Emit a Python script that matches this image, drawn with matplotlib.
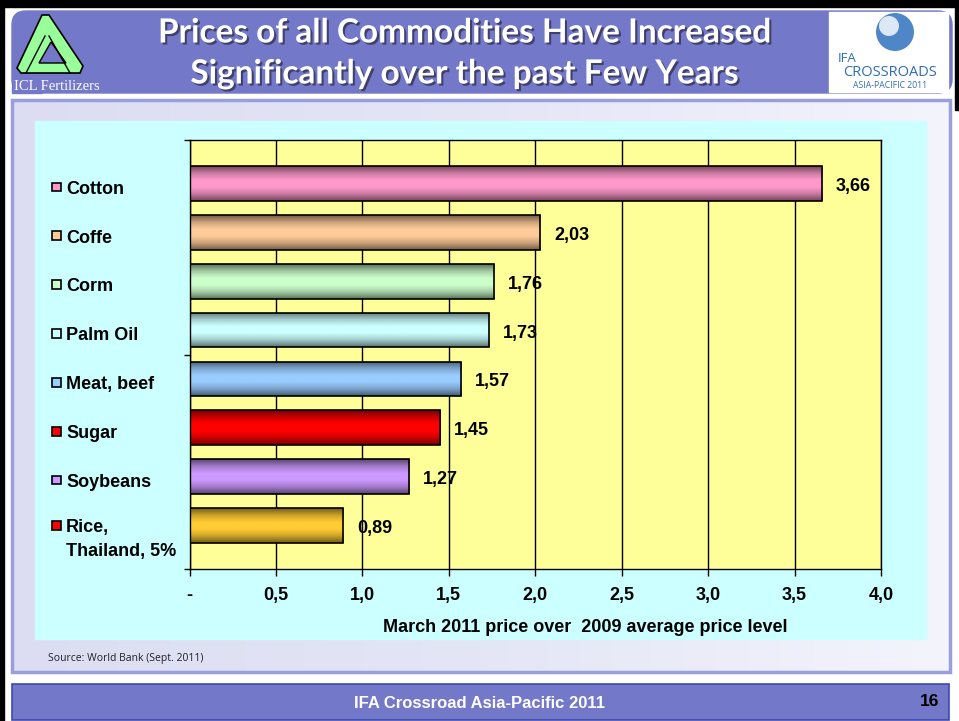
import matplotlib
matplotlib.use("Agg")
import matplotlib.pyplot as plt
import numpy as np
from matplotlib.patches import Rectangle, Polygon, FancyBboxPatch, Circle
from matplotlib.colors import LinearSegmentedColormap, to_rgb
import matplotlib.patheffects as pe
from matplotlib.transforms import blended_transform_factory

# data
categories = ["Cotton", "Coffe", "Corm", "Palm Oil", "Meat, beef", "Sugar", "Soybeans", "Rice,\nThailand, 5%"]
values = [3.66, 2.03, 1.76, 1.73, 1.57, 1.45, 1.27, 0.89]
value_labels = ["3,66", "2,03", "1,76", "1,73", "1,57", "1,45", "1,27", "0,89"]
bar_colors = ["#FF99CC", "#FFCC99", "#CCFFCC", "#CCFFFF", "#99CCFF", "#FF0000", "#CC99FF", "#FFCC33"]
legend_colors = ["#FF99CC", "#FFCC99", "#CCFFCC", "#CCFFFF", "#99CCFF", "#FF0000", "#CC99FF", "#FF0000"]
xticks = [0, 0.5, 1.0, 1.5, 2.0, 2.5, 3.0, 3.5, 4.0]
xtick_labels = ["-", "0,5", "1,0", "1,5", "2,0", "2,5", "3,0", "3,5", "4,0"]

W, H = 959, 721
BAND = "#7378C8"

fig = plt.figure(figsize=(W / 100, H / 100), dpi=100, facecolor="white")

# background / slide decoration in pixel coords
bg = fig.add_axes([0, 0, 1, 1], zorder=0)
bg.set_xlim(0, W)
bg.set_ylim(H, 0)
bg.axis("off")

# black frame
bg.add_patch(Rectangle((0, 0), W, 7, color="black"))
bg.add_patch(Rectangle((0, 0), 4, H, color="black"))
bg.add_patch(Rectangle((955, 0), 4, 110, color="black"))

# header band
bg.add_patch(FancyBboxPatch((12, 11), 940, 82, boxstyle="round,pad=0,rounding_size=14", color=BAND))
bg.add_patch(Rectangle((12, 40), 30, 53, color=BAND))

# content panel with soft gradient
grad = np.linspace(0, 1, 256).reshape(1, -1)
panel_cmap = LinearSegmentedColormap.from_list("p", ["#DCDDF2", "#E4E6F6", "#F4F4FC"])
bg.imshow(grad, extent=[12, 950, 672, 100], cmap=panel_cmap, aspect="auto", zorder=1)
bg.add_patch(Rectangle((12, 100), 938, 572, fill=False, edgecolor="#9A9EDC", lw=2.5, zorder=2))
bg.add_patch(Rectangle((35, 121), 891, 518, color="#CCFFFF", zorder=2))

# footer band
bg.add_patch(Rectangle((12, 684), 937, 36, facecolor=BAND, edgecolor="#3F48B0", lw=1.2))
bg.text(480, 703, "IFA Crossroad Asia-Pacific 2011", color="white", fontsize=12,
        fontweight="bold", family="Liberation Sans", ha="center", va="center")
bg.text(930, 702, "16", color="black", fontsize=12.5, fontweight="bold",
        family="Liberation Sans", ha="center", va="center")

# source
bg.text(48, 658, "Source: World Bank (Sept. 2011)", fontsize=7.5, family="Open Sans",
        ha="left", va="center", color="#222222")

# title
title_fx = [pe.withSimplePatchShadow(offset=(1.5, -1.5), shadow_rgbFace="#333355", alpha=0.8)]
bg.text(465, 33, "Prices of all Commodities Have Increased", color="white", fontsize=24,
        fontweight="bold", family="Lato", ha="center", va="center", path_effects=title_fx)
bg.text(465, 74, "Significantly over the past Few Years", color="white", fontsize=24,
        fontweight="bold", family="Lato", ha="center", va="center", path_effects=title_fx)

# ICL logo (simplified)
LG = "#99FF99"
bg.add_patch(Polygon([(42, 15), (49, 15), (83, 66), (80, 73), (21, 73), (17, 68)],
                     closed=True, facecolor=LG, edgecolor="black", lw=1.2, zorder=3))
bg.add_patch(Polygon([(51, 42), (66, 63), (39, 63)], closed=True, facecolor=BAND,
                     edgecolor="black", lw=1.0, zorder=4))
bg.plot([45, 26], [36, 73], color="black", lw=1.0, zorder=4)
bg.plot([49, 70], [36, 73], color="black", lw=1.0, zorder=4)
bg.text(57, 86, "ICL Fertilizers", color="white", fontsize=10.5, family="Liberation Serif",
        ha="center", va="center", zorder=4)

# IFA logo (simplified)
bg.add_patch(Rectangle((829, 12), 119, 80, color="white", zorder=3))
bg.add_patch(Circle((895, 32), 19, facecolor="#4F86C8", edgecolor="none", zorder=4))
bg.add_patch(Circle((889, 26), 10, facecolor="#DDE8F6", edgecolor="none", zorder=4))
bg.text(838, 58, "IFA", color="#2E6DB4", fontsize=9.5, family="Open Sans", ha="left",
        va="center", zorder=5)
bg.text(890, 72, "CROSSROADS", color="#2E6DB4", fontsize=10.5, family="Open Sans",
        ha="center", va="center", zorder=5)
bg.text(890, 85, "ASIA-PACIFIC 2011", color="#2E6DB4", fontsize=6.2, family="Open Sans",
        ha="center", va="center", zorder=5)

# chart axes
left, right, top, bottom = 189.5, 881, 140, 569
ax = fig.add_axes([left / W, (H - bottom) / H, (right - left) / W, (bottom - top) / H], zorder=2)
ax.set_facecolor("#FFFF99")

ypos = np.arange(len(categories))
bar_h = 0.71
bars = ax.barh(ypos, values, height=bar_h, color="none", edgecolor="black", lw=1.2, zorder=3)

for patch, v, y, c in zip(bars, values, ypos, bar_colors):
    r, g, b = to_rgb(c)
    dark = (r * 0.45, g * 0.45, b * 0.45)
    mid = (r * 0.8, g * 0.8, b * 0.8)
    cmap = LinearSegmentedColormap.from_list("b", [dark, mid, c, c, mid, dark])
    im = ax.imshow(np.linspace(0, 1, 64).reshape(-1, 1), extent=[0, v, y + bar_h / 2, y - bar_h / 2],
                   cmap=cmap, aspect="auto", zorder=2, interpolation="bilinear")
    im.set_clip_path(patch)

for v, y, lab in zip(values, ypos, value_labels):
    ax.text(v + 0.08, y + 0.06, lab, fontsize=13, fontweight="bold", family="Liberation Sans",
            ha="left", va="center", zorder=4)

ax.set_xlim(0, 4.0)
ax.set_ylim(7.89, -0.89)
ax.set_xticks(xticks)
ax.set_xticklabels(xtick_labels, fontsize=13, fontweight="bold", family="Liberation Sans")
ax.set_yticks([-0.89, 3.5, 7.89])
ax.set_yticklabels([])
ax.tick_params(axis="x", direction="out", length=5, width=1, pad=8)
ax.tick_params(axis="y", direction="out", length=4, width=1)
ax.grid(axis="x", color="black", lw=1)
ax.set_axisbelow(True)
for s in ax.spines.values():
    s.set_color("black")
    s.set_linewidth(1)

# axis title, centred a bit right of the plot as in the slide
bg.text(585, 628, "March 2011 price over  2009 average price level", fontsize=13,
        fontweight="bold", family="Liberation Sans", ha="center", va="center", zorder=3)

# category labels with colour squares (legend-like, on the left)
trans = blended_transform_factory(bg.transData, ax.transData)
line_step = 0.49
for y, lab, c in zip(ypos, categories, legend_colors):
    lines = lab.split("\n")
    base = y + 0.21 if len(lines) == 1 else y + 0.14
    bg.add_patch(Rectangle((52, base - 0.23), 9, 0.18, transform=trans, facecolor=c,
                           edgecolor="black", lw=1.2, zorder=5))
    for k, line in enumerate(lines):
        ax.text(66, base + k * line_step, line, transform=trans, fontsize=13, fontweight="bold",
                family="Liberation Sans", ha="left", va="baseline", clip_on=False)

fig.savefig("out.png", dpi=100, facecolor=fig.get_facecolor())
